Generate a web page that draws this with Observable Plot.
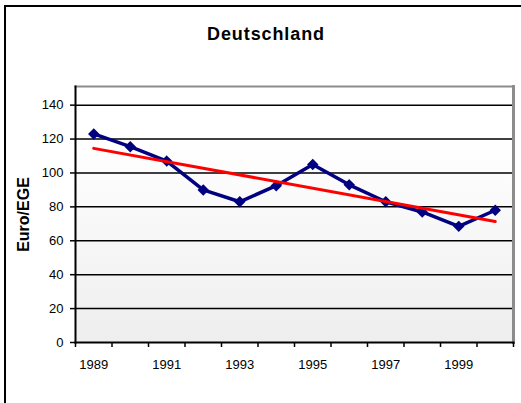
<!DOCTYPE html>
<html>
<head>
<meta charset="utf-8">
<script src="https://cdn.jsdelivr.net/npm/d3@7"></script>
<script src="https://cdn.jsdelivr.net/npm/@observablehq/plot@0.6"></script>
<style>
  html, body { margin: 0; padding: 0; background: #fff; overflow: hidden; }
  #wrap { position: relative; width: 521px; height: 403px; background: #fff; overflow: hidden;
          font-family: "Liberation Sans", Arial, sans-serif; }
  #border { position: absolute; left: 4px; top: 5px; width: 700px; height: 700px;
            border-left: 2px solid #000; border-top: 2px solid #000; }
  #title { position: absolute; left: 5px; width: 522px; top: 25px; text-align: center;
           font-size: 18px; line-height: 18px; font-weight: bold; letter-spacing: 0.9px; color: #000; }
  #chart { position: absolute; left: 0; top: 50px; }
  #chart [aria-label="y-axis label"] { font-size: 16px; font-weight: bold; }
</style>
</head>
<body>
<div id="wrap">
  <div id="border"></div>
  <div id="title"></div>
  <div id="chart"></div>
</div>
<script>
const title = "Deutschland";
const yLabel = "Euro/EGE";
const years = [1989, 1990, 1991, 1992, 1993, 1994, 1995, 1996, 1997, 1998, 1999, 2000];
const values = [123, 115.5, 107, 90, 83, 92.5, 105, 93, 83, 77, 68.5, 78];
const yTicks = [0, 20, 40, 60, 80, 100, 120, 140];
const xLabels = [1989, 1991, 1993, 1995, 1997, 1999];

document.getElementById("title").textContent = title;

const data = years.map((year, i) => ({year, value: values[i]}));
const bounds = [...years.map(y => y - 0.5), years[years.length - 1] + 0.5];

function background(index, scales, values, dims) {
  const g = d3.create("svg:g");
  const grad = g.append("defs").append("linearGradient")
    .attr("id", "bg-grad").attr("x1", 0).attr("y1", 0).attr("x2", 0).attr("y2", 1);
  grad.append("stop").attr("offset", 0).attr("stop-color", "#ffffff");
  grad.append("stop").attr("offset", 0.2).attr("stop-color", "#ffffff");
  grad.append("stop").attr("offset", 1).attr("stop-color", "#eeeeee");
  g.append("rect")
    .attr("x", dims.marginLeft).attr("y", dims.marginTop)
    .attr("width", dims.width - dims.marginLeft - dims.marginRight)
    .attr("height", dims.height - dims.marginTop - dims.marginBottom)
    .attr("fill", "url(#bg-grad)");
  return g.node();
}

const chart = Plot.plot({
  width: 521,
  height: 353,
  marginLeft: 75,
  marginRight: 8,
  marginTop: 36,
  marginBottom: 61,
  style: {fontFamily: "'Liberation Sans', Arial, sans-serif", fontSize: "13px", color: "#000", background: "transparent", overflow: "visible"},
  x: {domain: [bounds[0], bounds[bounds.length - 1]], label: null},
  y: {domain: [0, 151], label: null},
  marks: [
    background,
    Plot.ruleY(yTicks.slice(1), {stroke: "#000", strokeWidth: 1.5}),
    Plot.frame({anchor: "top", stroke: "#8c8c8c", strokeWidth: 2}),
    Plot.frame({anchor: "right", stroke: "#8c8c8c", strokeWidth: 3}),
    Plot.frame({anchor: "left", stroke: "#000", strokeWidth: 2}),
    Plot.frame({anchor: "bottom", stroke: "#000", strokeWidth: 2}),
    Plot.axisY({ticks: yTicks, tickSize: 5, tickPadding: 7, strokeWidth: 1.5, fontSize: 13,
                label: yLabel, labelAnchor: "center", labelOffset: 58, labelArrow: false}),
    Plot.ruleX(bounds, {x: d => d, y1: 0, y2: 0, insetBottom: -5, stroke: "#000", strokeWidth: 1.5}),
    Plot.axisX({ticks: xLabels, tickSize: 0, tickPadding: 17, fontSize: 13, tickFormat: d => String(d), label: null}),
    Plot.line(data, {x: "year", y: "value", stroke: "#000080", strokeWidth: 3.5}),
    Plot.dot(data, {x: "year", y: "value", symbol: "diamond2", r: 4.2, fill: "#000080", stroke: "#000080"}),
    Plot.linearRegressionY(data, {x: "year", y: "value", ci: 0, stroke: "#ff0000", strokeWidth: 3})
  ]
});
document.getElementById("chart").appendChild(chart);
</script>
</body>
</html>
